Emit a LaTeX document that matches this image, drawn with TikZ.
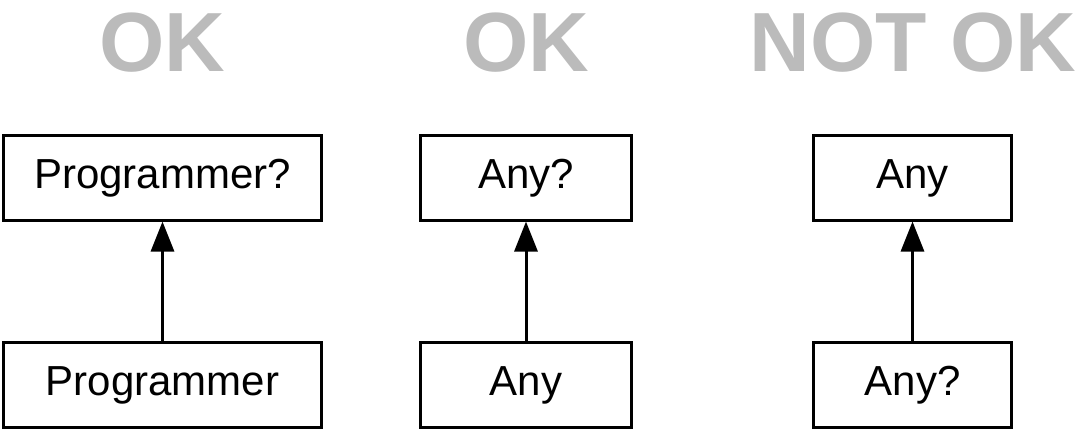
\documentclass[tikz,border=0pt]{standalone}
\usepackage{fontspec}
\setmainfont{Liberation Sans}
\usetikzlibrary{arrows.meta}
\definecolor{titlegray}{HTML}{BBBBBB}
\begin{document}
\begin{tikzpicture}[x=1pt,y=-1pt,
  umlbox/.style={draw=black, line width=3pt, rectangle, inner sep=0pt,
    minimum width=#1, minimum height=85pt,
    font=\fontsize{42}{50}\selectfont, text height=30pt, text depth=9pt},
  titletext/.style={anchor=base, inner sep=0pt, text=titlegray,
    font=\fontsize{84}{90}\selectfont\bfseries},
  inherit/.style={line width=3pt, -{Triangle[width=23pt,length=30pt]}}]
\useasboundingbox (0,0) rectangle (1075,429);
\node[titletext] (t1) at (162.5,71) {OK};
\node[titletext] (t2) at (526,71) {OK};
\node[titletext] (t3) at (913,71) {NOT OK};
\node[umlbox=318pt] (a1) at (162.5,177.5) {Programmer?};
\node[umlbox=318pt] (b1) at (162.5,384.5) {Programmer};
\node[umlbox=211pt] (a2) at (526,177.5) {Any?};
\node[umlbox=211pt] (b2) at (526,384.5) {Any};
\node[umlbox=198pt] (a3) at (912.5,177.5) {Any};
\node[umlbox=198pt] (b3) at (912.5,384.5) {Any?};
\draw[inherit] (b1) -- (a1);
\draw[inherit] (b2) -- (a2);
\draw[inherit] (b3) -- (a3);
\end{tikzpicture}
\end{document}
